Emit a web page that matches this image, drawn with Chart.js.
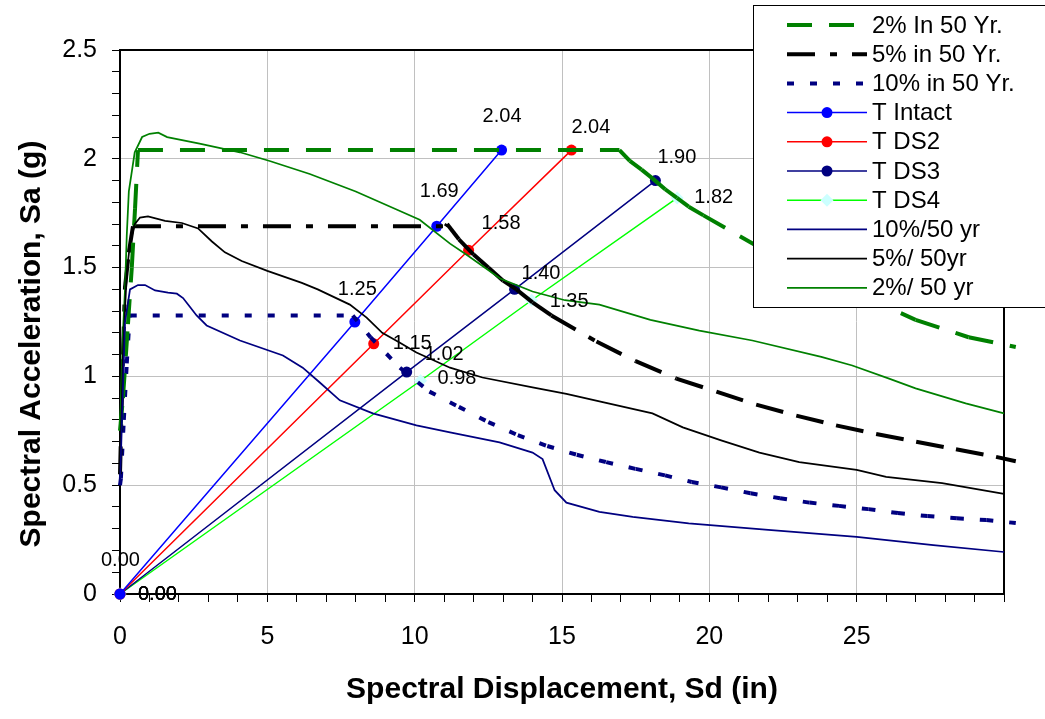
<!DOCTYPE html>
<html>
<head>
  <title>Capacity Spectrum</title>
  <script src="https://cdn.jsdelivr.net/npm/chart.js"></script>
  <style>
    body { margin: 0; background: #fff; }
    #wrap { width: 1045px; height: 719px; position: relative; }
  </style>
</head>
<body>
  <div id="wrap"><canvas id="chart"></canvas></div>

  <script>
    // demand spectra (thin lines)
    const sd10yr = [0, 0.17, 0.34, 0.61, 0.85, 1.19, 1.63, 1.93, 2.14, 2.37, 2.6, 2.94, 4.07, 5.53, 6.2, 6.78, 7.46, 8.58, 10.06, 11.2, 12.88, 14.0, 14.34, 14.75, 15.15, 16.27, 17.4, 19.3, 22.0, 25.0, 27.6, 30.0, 30.4];
    const sa10yr = [0.5, 1.25, 1.40, 1.42, 1.42, 1.395, 1.385, 1.38, 1.36, 1.32, 1.28, 1.234, 1.165, 1.096, 1.04, 0.972, 0.89, 0.83, 0.775, 0.743, 0.697, 0.65, 0.62, 0.477, 0.42, 0.377, 0.354, 0.325, 0.295, 0.263, 0.225, 0.193, 0.19];

    const sd5yr = [0, 0.1, 0.23, 0.34, 0.5, 0.68, 0.95, 1.53, 2.1, 2.65, 3.12, 3.56, 4.13, 5.0, 6.17, 6.71, 7.8, 8.37, 8.9, 9.5, 10.06, 11.2, 12.3, 14.0, 15.15, 16.27, 18.07, 19.1, 20.4, 21.7, 23.05, 25.0, 26.0, 27.9, 30.0, 30.4];
    const sa5yr = [0.55, 1.1, 1.48, 1.61, 1.70, 1.73, 1.735, 1.715, 1.705, 1.68, 1.62, 1.57, 1.53, 1.485, 1.43, 1.40, 1.33, 1.27, 1.20, 1.155, 1.11, 1.04, 0.995, 0.95, 0.92, 0.885, 0.83, 0.766, 0.706, 0.65, 0.606, 0.57, 0.538, 0.51, 0.46, 0.455];

    const sd2yr = [0, 0.1, 0.17, 0.23, 0.3, 0.5, 0.75, 1.0, 1.3, 1.6, 2.7, 4.07, 5.08, 6.44, 8.0, 9.5, 10.17, 11.2, 11.75, 12.9, 14.0, 15.1, 16.27, 18.0, 19.66, 21.46, 23.8, 24.85, 26.1, 27.0, 28.7, 30.0, 30.4];
    const sa2yr = [0.75, 1.2, 1.4, 1.65, 1.85, 2.03, 2.10, 2.115, 2.12, 2.10, 2.07, 2.03, 1.99, 1.93, 1.85, 1.76, 1.72, 1.61, 1.56, 1.45, 1.39, 1.35, 1.33, 1.26, 1.21, 1.165, 1.09, 1.05, 0.99, 0.945, 0.876, 0.83, 0.82];

    // reduced demand (thick dashed lines)
    const sd2in50 = [0, 0.1, 0.27, 0.4, 0.51, 0.61, 16.95, 17.3, 17.7, 18.07, 18.5, 18.9, 19.3, 19.8, 21.6, 23.4, 25.2, 27.0, 28.8, 30.4];
    const sa2in50 = [0.75, 0.9, 1.24, 1.5, 1.77, 2.04, 2.04, 1.99, 1.95, 1.91, 1.86, 1.82, 1.78, 1.74, 1.60, 1.48, 1.37, 1.26, 1.18, 1.135];

    const sd5in50 = [0, 0.1, 0.17, 0.3, 0.44, 11.05, 11.1, 11.5, 12.0, 12.5, 13.0, 13.45, 14.0, 14.64, 16.17, 17.5, 18.88, 20.24, 21.59, 22.95, 24.3, 25.66, 27.02, 28.37, 29.73, 30.4];
    const sa5in50 = [0.55, 1.1, 1.41, 1.57, 1.69, 1.69, 1.70, 1.63, 1.56, 1.50, 1.44, 1.40, 1.34, 1.28, 1.16, 1.07, 0.99, 0.93, 0.87, 0.82, 0.775, 0.735, 0.70, 0.665, 0.63, 0.61];

    const sd10in50 = [0, 0.03, 0.13, 0.23, 0.33, 7.9, 8.5, 9.5, 10.5, 11.5, 12.5, 13.5, 14.5, 15.5, 16.5, 17.5, 18.5, 19.4, 20.4, 21.4, 22.4, 23.4, 24.4, 25.4, 26.4, 27.4, 28.4, 29.4, 30.4];
    const sa10in50 = [0.5, 0.53, 0.8, 1.06, 1.28, 1.28, 1.18, 1.04, 0.93, 0.86, 0.79, 0.73, 0.68, 0.64, 0.606, 0.575, 0.545, 0.515, 0.49, 0.463, 0.44, 0.42, 0.405, 0.39, 0.372, 0.358, 0.348, 0.34, 0.326];

    // period lines
    const sdIntact = [0, 7.97, 10.75, 12.95];
    const saIntact = [0, 1.25, 1.69, 2.04];
    const sdDS2 = [0, 8.61, 11.83, 15.32];
    const saDS2 = [0, 1.15, 1.58, 2.04];
    const sdDS3 = [0, 9.73, 13.39, 18.17];
    const saDS3 = [0, 1.02, 1.40, 1.90];
    const sdDS4 = [0, 10.2, 13.97, 18.91];
    const saDS4 = [0, 0.98, 1.35, 1.82];

    const legendOrder = ['2% In 50 Yr.', '5% in 50 Yr.', '10% in 50 Yr.', 'T Intact', 'T DS2', 'T DS3', 'T DS4', '10%/50 yr', '5%/ 50yr', '2%/ 50 yr'];

    // data label offsets [dx to text left edge, dy to text middle]
    const labelShift = {
      'T Intact': [[-19, -34], [-17, -33], [-17, -35], [-19, -34]],
      'T DS2': [[18, 0], [19, 0], [13, -27], [0, -23]],
      'T DS3': [[18, 0], [18, -18], [7, -16], [2, -23]],
      'T DS4': [[18, 0], [17, -2], [18, 1], [17, 0]]
    };

    const FONT = "'Liberation Sans', Arial, sans-serif";
    Chart.defaults.font.family = FONT;
    Chart.defaults.color = '#000';

    function pts(xs, ys) {
      return xs.map((x, i) => ({ x: x, y: ys[i] }));
    }

    function curve(label, xs, ys, color, width, dash) {
      const ds = {
        label: label, data: pts(xs, ys), showLine: true,
        borderColor: color, backgroundColor: color, borderWidth: width,
        borderDash: dash || [], pointRadius: 0, pointHoverRadius: 0,
        tension: 0, clip: false
      };
      if (dash) {
        // restart the dash pattern on every segment, like the old spreadsheet renderer
        ds.segment = { borderDashOffset: c => (c.p0DataIndex % 2) * 0.0001 };
      }
      return ds;
    }

    function tLine(label, xs, ys, color, marker, fill) {
      return {
        label: label, data: pts(xs, ys), showLine: true,
        borderColor: color, backgroundColor: fill, borderWidth: 1.5,
        pointStyle: marker, pointRadius: marker === 'rectRot' ? 6.5 : 5.5,
        pointBorderWidth: 0, pointBorderColor: fill,
        tension: 0, clip: false
      };
    }

    const frame = {
      id: 'frame',
      beforeDatasetsDraw(chart) {
        const a = chart.chartArea, ctx = chart.ctx;
        ctx.save();
        ctx.strokeStyle = '#000';
        ctx.lineWidth = 2;
        ctx.beginPath();
        ctx.moveTo(a.left, a.top);
        ctx.lineTo(a.right, a.top);
        ctx.lineTo(a.right, a.bottom);
        ctx.stroke();
        ctx.restore();
      }
    };

    const pointLabels = {
      id: 'pointLabels',
      afterDatasetsDraw(chart) {
        const ctx = chart.ctx;
        ctx.save();
        ctx.font = '20px ' + FONT;
        ctx.fillStyle = '#000';
        ctx.textAlign = 'left';
        ctx.textBaseline = 'middle';
        chart.data.datasets.forEach((ds, i) => {
          const shift = labelShift[ds.label];
          if (!shift) return;
          chart.getDatasetMeta(i).data.forEach((el, j) => {
            ctx.fillText(ds.data[j].y.toFixed(2), el.x + shift[j][0], el.y + shift[j][1]);
          });
        });
        ctx.restore();
      }
    };

    // y title sits a little below the plot centre in the original
    const yTitle = {
      id: 'yTitle',
      afterDraw(chart) {
        const ctx = chart.ctx;
        ctx.save();
        ctx.translate(32, 344);
        ctx.rotate(-Math.PI / 2);
        ctx.font = 'bold 30px ' + FONT;
        ctx.fillStyle = '#000';
        ctx.textAlign = 'center';
        ctx.textBaseline = 'middle';
        ctx.fillText('Spectral Acceleration, Sa (g)', 0, 0);
        ctx.restore();
      }
    };

    const legendBox = {
      id: 'legendBox',
      afterDraw(chart) {
        const ctx = chart.ctx;
        ctx.save();
        ctx.fillStyle = '#fff';
        ctx.fillRect(753, 5, 300, 302);
        ctx.strokeStyle = '#000';
        ctx.lineWidth = 1;
        ctx.strokeRect(753.5, 5.5, 300, 302);
        ctx.font = '24px ' + FONT;
        ctx.textBaseline = 'middle';
        legendOrder.forEach((name, i) => {
          const ds = chart.data.datasets.find(d => d.label === name);
          const y = 25 + i * 29.2;
          ctx.strokeStyle = ds.borderColor;
          ctx.lineWidth = ds.borderWidth;
          ctx.setLineDash(ds.borderDash || []);
          ctx.beginPath();
          ctx.moveTo(787, y);
          ctx.lineTo(867, y);
          ctx.stroke();
          ctx.setLineDash([]);
          if (ds.pointRadius > 0) {
            const r = ds.pointRadius;
            ctx.fillStyle = ds.backgroundColor;
            ctx.beginPath();
            if (ds.pointStyle === 'rectRot') {
              ctx.moveTo(827, y - r); ctx.lineTo(827 + r, y);
              ctx.lineTo(827, y + r); ctx.lineTo(827 - r, y);
              ctx.closePath();
            } else {
              ctx.arc(827, y, r, 0, Math.PI * 2);
            }
            ctx.fill();
          }
          ctx.fillStyle = '#000';
          ctx.fillText(name, 872, y + 1);
        });
        ctx.restore();
      }
    };

    const isMajor = (v, step) => Math.abs(v / step - Math.round(v / step)) < 1e-6;

    new Chart(document.getElementById('chart'), {
      type: 'scatter',
      data: {
        datasets: [
          curve('10%/50 yr', sd10yr, sa10yr, '#000080', 1.75),
          curve('5%/ 50yr', sd5yr, sa5yr, '#000000', 1.75),
          curve('2%/ 50 yr', sd2yr, sa2yr, '#008000', 1.75),
          curve('2% In 50 Yr.', sd2in50, sa2in50, '#008000', 4, [25, 17]),
          curve('5% in 50 Yr.', sd5in50, sa5in50, '#000000', 4, [28, 15, 7, 15]),
          curve('10% in 50 Yr.', sd10in50, sa10in50, '#000080', 4, [7, 16]),
          tLine('T Intact', sdIntact, saIntact, '#0000ff', 'circle', '#0000ff'),
          tLine('T DS2', sdDS2, saDS2, '#ff0000', 'circle', '#ff0000'),
          tLine('T DS3', sdDS3, saDS3, '#000080', 'circle', '#000080'),
          tLine('T DS4', sdDS4, saDS4, '#00ff00', 'rectRot', '#ccffff')
        ]
      },
      options: {
        responsive: true,
        maintainAspectRatio: false,
        animation: false,
        layout: { padding: { left: 0, top: 50, right: 41, bottom: 0 } },
        plugins: {
          legend: { display: false },
          tooltip: { enabled: false }
        },
        scales: {
          x: {
            type: 'linear', min: 0, max: 30,
            afterFit: s => { s.height = 125; },
            border: { color: '#000', width: 2 },
            grid: {
              color: c => (c.tick && isMajor(c.tick.value, 5) ? '#c0c0c0' : 'rgba(0,0,0,0)'),
              tickColor: '#000', tickLength: 8, lineWidth: 1
            },
            ticks: {
              stepSize: 1, autoSkip: false, maxRotation: 0, padding: 20,
              font: { size: 25 },
              callback: v => (isMajor(v, 5) && v < 30 ? String(v) : '')
            },
            title: {
              display: true, text: 'Spectral Displacement, Sd (in)',
              font: { size: 30, weight: 'bold' }, padding: { top: 0, bottom: 11 }
            }
          },
          y: {
            min: 0, max: 2.5,
            afterFit: s => { s.width = 120; },
            border: { color: '#000', width: 2 },
            grid: {
              color: c => (c.tick && isMajor(c.tick.value, 0.5) ? '#c0c0c0' : 'rgba(0,0,0,0)'),
              tickColor: '#000', tickLength: 8, lineWidth: 1
            },
            ticks: {
              stepSize: 0.1, autoSkip: false, padding: 15,
              font: { size: 25 },
              callback: v => (isMajor(v, 0.5) ? String(Math.round(v * 10) / 10) : '')
            }
          }
        }
      },
      plugins: [frame, pointLabels, yTitle, legendBox]
    });
  </script>
</body>
</html>
